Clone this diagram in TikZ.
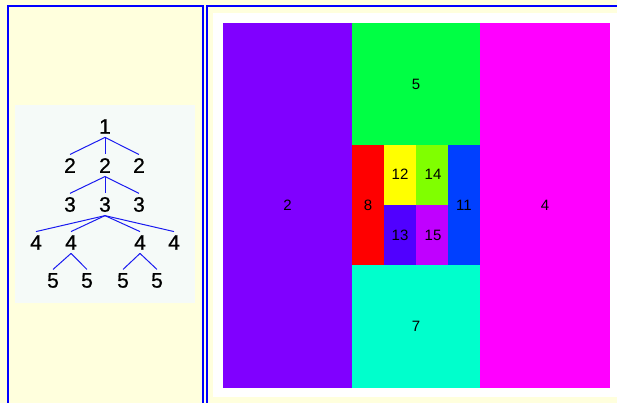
\documentclass[tikz,border=0pt]{standalone}
\usepackage{fontspec}
\setmainfont{Liberation Sans}
\newfontfamily\treefont{Liberation Sans}[FakeBold=0.7]
\usetikzlibrary{positioning}
\definecolor{PageYellow}{HTML}{FFFFDD}
\definecolor{FrameBlue}{HTML}{0000FF}
\definecolor{TreeFog}{HTML}{F5FAF8}
\definecolor{TreeEdge}{HTML}{1A1AF0}
\definecolor{CellViolet}{HTML}{8000FF}
\definecolor{CellGreen}{HTML}{00FF44}
\definecolor{CellMagenta}{HTML}{FF00FF}
\definecolor{CellAqua}{HTML}{00FFCC}
\definecolor{CellRed}{HTML}{FF0000}
\definecolor{CellYellow}{HTML}{FFFF00}
\definecolor{CellLime}{HTML}{80FF00}
\definecolor{CellBlue}{HTML}{0040FF}
\definecolor{CellIndigo}{HTML}{5000FF}
\definecolor{CellPurple}{HTML}{C000FF}

\begin{document}
\begin{tikzpicture}[
      x=1pt,y=-1pt,
      frame/.style={draw=FrameBlue,line width=2.2pt},
      tnode/.style={font=\treefont\fontsize{21}{21}\selectfont,inner sep=3.5pt},
      tedge/.style={draw=TreeEdge,line width=1pt},
      cellnum/.style={font=\fontsize{15}{15}\selectfont,inner sep=1pt}
    ]
    \useasboundingbox (0,0) rectangle (617,403);
    \clip (0,0) rectangle (617,403);
    \fill[PageYellow] (0,0) rectangle (617,403);

    % two framed panels
    \draw[frame] (8,6) rectangle (203,430);
    \draw[frame] (207,6) rectangle (640,430);
    \fill[white] (213,13) rectangle (640,397);

    % left: tree
    \fill[TreeFog] (15,105) rectangle (195,303);
    \node[tnode] (r) at (105,126.5) {1};
    \node[tnode] (b1) at (70,165.5) {2};
    \node[tnode] (b2) at (105,165.5) {2};
    \node[tnode] (b3) at (139,165.5) {2};
    \node[tnode] (c1) at (70,204.5) {3};
    \node[tnode] (c2) at (105,204.5) {3};
    \node[tnode] (c3) at (139,204.5) {3};
    \node[tnode] (d1) at (36,242.5) {4};
    \node[tnode] (d2) at (71,242.5) {4};
    \node[tnode] (d3) at (140,242.5) {4};
    \node[tnode] (d4) at (174,242.5) {4};
    \node[tnode] (e1) at (53,280.5) {5};
    \node[tnode] (e2) at (87,280.5) {5};
    \node[tnode] (e3) at (123,280.5) {5};
    \node[tnode] (e4) at (157,280.5) {5};
    \foreach \kid in {b1,b2,b3}
      \draw[tedge] (r.south) -- (\kid.north);
    \foreach \kid in {c1,c2,c3}
      \draw[tedge] (b2.south) -- (\kid.north);
    \foreach \kid in {d1,d2,d3,d4}
      \draw[tedge] (c2.south) -- (\kid.north);
    \foreach \kid in {e1,e2}
      \draw[tedge] (d2.south) -- (\kid.north);
    \foreach \kid in {e3,e4}
      \draw[tedge] (d3.south) -- (\kid.north);

    % right: nested rectangles
    \fill[CellViolet] (223,23) rectangle (352,388);
    \node[cellnum] at (287.5,205.5) {2};
    \fill[CellGreen] (352,23) rectangle (480,145);
    \node[cellnum] at (416,84) {5};
    \fill[CellMagenta] (480,23) rectangle (610,388);
    \node[cellnum] at (545,205.5) {4};
    \fill[CellAqua] (352,265) rectangle (480,388);
    \node[cellnum] at (416,326.5) {7};
    \fill[CellRed] (352,145) rectangle (384,265);
    \node[cellnum] at (368,205) {8};
    \fill[CellYellow] (384,145) rectangle (416,205);
    \node[cellnum] at (400,174) {12};
    \fill[CellLime] (416,145) rectangle (448,205);
    \node[cellnum] at (433,174) {14};
    \fill[CellIndigo] (384,205) rectangle (416,265);
    \node[cellnum] at (400,235) {13};
    \fill[CellPurple] (416,205) rectangle (448,265);
    \node[cellnum] at (433,235) {15};
    \fill[CellBlue] (448,145) rectangle (480,265);
    \node[cellnum] at (464,205) {11};
  \end{tikzpicture}
\end{document}
